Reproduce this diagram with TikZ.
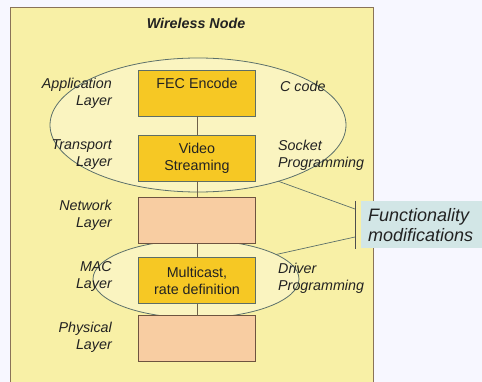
\documentclass[tikz,border=0pt]{standalone}
\usepackage{fontspec}
\setmainfont{Liberation Sans}
\usetikzlibrary{shapes.geometric}
\definecolor{bgyellow}{HTML}{F8F0A6}
\definecolor{gold}{HTML}{F6C824}
\definecolor{peach}{HTML}{F8CDA2}
\definecolor{lblue}{HTML}{D2E6E6}
\definecolor{ink}{HTML}{222222}
\definecolor{frame}{HTML}{8A7358}
\definecolor{goldedge}{HTML}{5E6E66}
\definecolor{peachedge}{HTML}{6E5440}
\definecolor{elledge}{HTML}{5C706A}
\definecolor{conncol}{HTML}{6E6048}
\begin{document}
\begin{tikzpicture}[x=1pt,y=-1pt,
  lbl/.style={font=\fontsize{14.3}{17}\selectfont\itshape, text=ink, inner sep=0pt},
  boxtext/.style={font=\fontsize{14.3}{17}\selectfont, text=ink, align=center},
  layerbox/.style={minimum width=117pt, minimum height=46pt, inner sep=0pt, outer sep=0pt, boxtext, line width=0.8pt},
  goldbox/.style={layerbox, fill=gold, draw=goldedge},
  peachbox/.style={layerbox, fill=peach, draw=peachedge},
  ovl/.style={ellipse, draw=elledge, line width=0.8pt, fill=white, fill opacity=0.3, inner sep=0pt, outer sep=0pt},
  conn/.style={draw=conncol, line width=0.7pt}
]
\useasboundingbox (0,0) rectangle (482,382);
\clip (0,0) rectangle (482,382);
\fill[white!97!blue] (0,0) rectangle (482,382);
\draw[frame, fill=bgyellow, line width=0.9pt] (10,7) rectangle (373,395);

\node[font=\fontsize{14.3}{17}\selectfont\bfseries\itshape, text=ink, inner sep=0pt] (title) at (196,23) {Wireless Node};

% ovals
\node[ovl, minimum width=296pt, minimum height=134pt] (e1) at (198,125) {};
\node[ovl, minimum width=206pt, minimum height=78pt] (e2) at (196,279) {};

% boxes
\node[goldbox, label={[name=fect, boxtext, inner sep=0pt, anchor=north, yshift=-8pt]north:FEC Encode}] (fec) at (197,93) {};
\node[goldbox] (vid) at (197,158) {Video\\Streaming};
\node[peachbox] (net) at (197,220) {};
\node[goldbox] (mc) at (197,280.5) {Multicast,\\rate definition};
\node[peachbox] (phy) at (197,338.5) {};

\draw[conn] (fec) -- (vid);
\draw[conn] (vid) -- (net);
\draw[conn] (net) -- (mc);
\draw[conn] (mc) -- (phy);

% left labels
\node[lbl, anchor=east, align=right] (app) at (112,93) {Application\\Layer};
\node[lbl, anchor=east, align=right] (tra) at (112,155) {Transport\\Layer};
\node[lbl, anchor=east, align=right] (netl) at (112,215) {Network\\Layer};
\node[lbl, anchor=east, align=right] (macl) at (112,276) {MAC\\Layer};
\node[lbl, anchor=east, align=right] (phyl) at (112,337) {Physical\\Layer};

% right labels
\node[lbl, anchor=west, align=left] (ccode) at (280,86) {C code};
\node[lbl, anchor=west, align=left] (sock) at (278,155) {Socket\\Programming};
\node[lbl, anchor=west, align=left] (drv) at (278,278) {Driver\\Programming};

% functionality modifications
\node[fill=lblue, minimum width=125pt, minimum height=47pt, inner sep=0pt, outer sep=0pt, anchor=west] (func) at (361,224.5) {};
\node[font=\fontsize{18}{20}\selectfont\itshape, text=ink, align=left, anchor=west, inner sep=0pt] (functext) at (368,225) {Functionality\\modifications};
\coordinate (bt) at (355,201);
\coordinate (bb) at (355,249);
\coordinate (b1) at (355,209);
\coordinate (b2) at (355,237);
\draw[conn, draw=ink!80] (bt) -- (bb);
\draw[conn, draw=elledge] (e1.-35.5) -- (b1);
\draw[conn, draw=elledge] (e2.17.6) -- (b2);
\end{tikzpicture}
\end{document}
